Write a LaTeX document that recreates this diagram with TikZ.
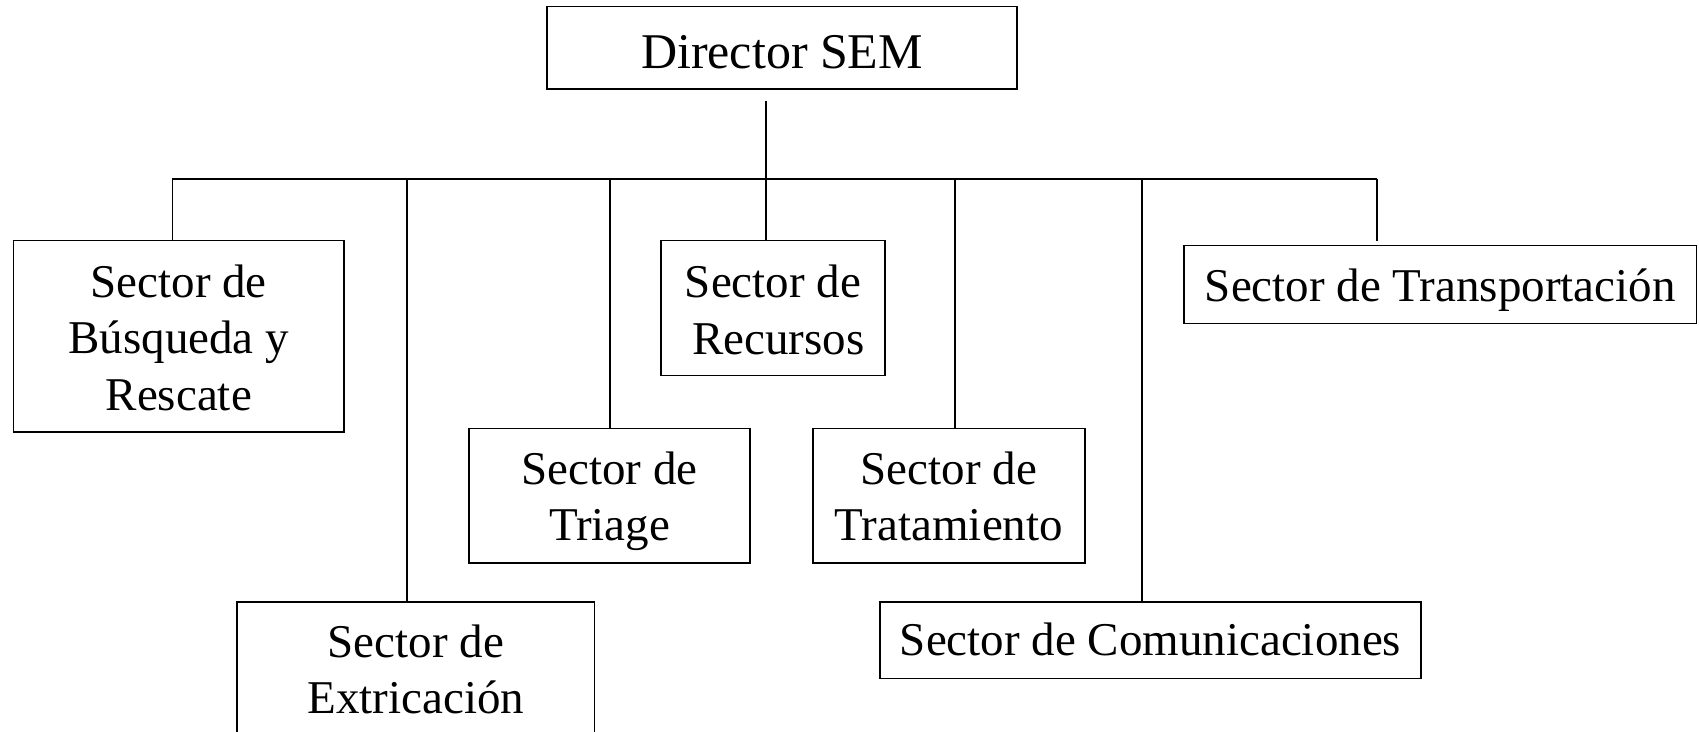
\documentclass[tikz,border=0pt]{standalone}
\usepackage{fontspec}
\setmainfont{Liberation Serif}
\begin{document}
\begin{tikzpicture}[x=0.5pt,y=-0.5pt,
  box/.style={draw=black, line width=0.75pt, inner sep=0pt, align=flush center,
    font=\fontsize{23.5}{28.25}\selectfont, text depth=0pt},
  conn/.style={draw=black, line width=0.75pt}]
\useasboundingbox (0,0) rectangle (1699,732);
% boxes
\node[box, font=\fontsize{25}{30}\selectfont, minimum width=235pt, minimum height=41.25pt, text height=20.5pt] (dir) at (782,47.8) {Director SEM};
\node[box, text width=165.25pt, minimum height=95.65pt, text height=17.7pt, text depth=56.5pt] (bus) at (178.8,336.3) {Sector de\\Búsqueda y\\Rescate};
\node[box, text width=112pt, minimum height=67.5pt, text height=17.8pt, text depth=28.25pt] (rec) at (773,308.2) {Sector de\\\hspace*{5.4pt}Recursos};
\node[box, text width=140.5pt, minimum height=67.15pt, text height=16.9pt, text depth=28.25pt] (tri) at (609.5,495.8) {Sector de\\Triage};
\node[box, text width=135.85pt, minimum height=67.15pt, text height=16.9pt, text depth=28.25pt] (trat) at (948.9,495.8) {Sector de\\Tratamiento};
\node[box, text width=178.8pt, minimum height=67pt, text height=16.3pt, text depth=28.25pt] (ext) at (415.8,669) {Sector de\\Extricación};
\node[box, minimum width=270.5pt, minimum height=38.35pt, text height=15.7pt] (com) at (1150.5,640.3) {Sector de Comunicaciones};
\node[box, minimum width=256.3pt, minimum height=38.8pt, text height=17.2pt] (tra) at (1440.3,284.5) {Sector de Transportación};
% connector points
\coordinate (dtop) at (766,100.7);
\coordinate (bL) at (172.4,179);
\coordinate (b1) at (407,179);
\coordinate (b2) at (610,179);
\coordinate (b3) at (766,179);
\coordinate (b4) at (955,179);
\coordinate (b5) at (1142,179);
\coordinate (bR) at (1377,179);
\coordinate (trend) at (1377,240.7);
% connectors
\draw[conn] (dtop) -- (b3);
\draw[conn] (bL) -- (bR);
\draw[conn] (bL) -- (bL |- bus.north);
\draw[conn] (b1) -- (b1 |- ext.north);
\draw[conn] (b2) -- (b2 |- tri.north);
\draw[conn] (b3) -- (b3 |- rec.north);
\draw[conn] (b4) -- (b4 |- trat.north);
\draw[conn] (b5) -- (b5 |- com.north);
\draw[conn] (bR) -- (trend);
\end{tikzpicture}
\end{document}
